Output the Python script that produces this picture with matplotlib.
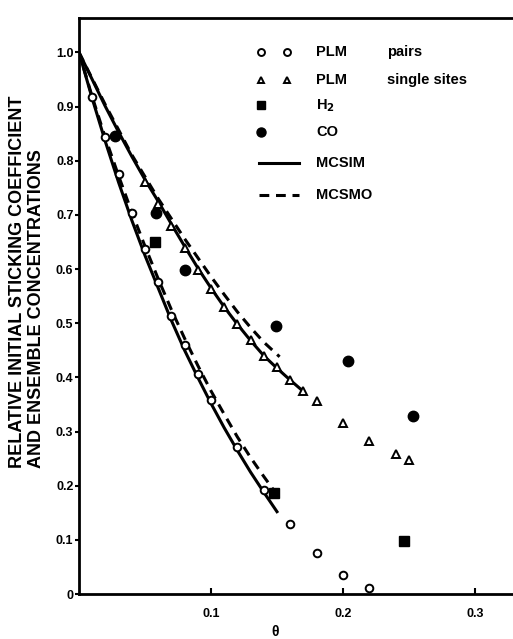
import matplotlib.pyplot as plt

plt.rcParams['font.family'] = ['Liberation Sans', 'DejaVu Sans']
plt.rcParams['font.weight'] = 'bold'

# PLM pairs (open circles)
pairs_x = [0.01, 0.02, 0.03, 0.04, 0.05, 0.06, 0.07, 0.08, 0.09, 0.10,
           0.12, 0.14, 0.16, 0.18, 0.20, 0.22]
pairs_y = [0.917, 0.844, 0.775, 0.704, 0.637, 0.577, 0.513, 0.460, 0.407, 0.358,
           0.271, 0.192, 0.129, 0.075, 0.036, 0.011]

# PLM single sites (open triangles)
single_x = [0.05, 0.06, 0.07, 0.08, 0.09, 0.10, 0.11, 0.12, 0.13, 0.14,
            0.15, 0.16, 0.17, 0.18, 0.20, 0.22, 0.24, 0.25]
single_y = [0.761, 0.720, 0.679, 0.639, 0.599, 0.564, 0.529, 0.498, 0.469, 0.440,
            0.419, 0.396, 0.375, 0.357, 0.316, 0.283, 0.258, 0.247]

# H2 (filled squares)
h2_x = [0.0576, 0.148, 0.2465]
h2_y = [0.650, 0.186, 0.098]

# CO (filled circles)
co_x = [0.027, 0.058, 0.080, 0.149, 0.204, 0.253]
co_y = [0.846, 0.704, 0.598, 0.495, 0.430, 0.329]

# MCSIM (solid) and MCSMO (dashed) curves
mcsim_pairs_x = [0, 0.01, 0.02, 0.03, 0.04, 0.05, 0.06, 0.07, 0.08, 0.09, 0.10,
                 0.11, 0.12, 0.13, 0.14, 0.15]
mcsim_pairs_y = [1.0, 0.915, 0.835, 0.760, 0.690, 0.625, 0.565, 0.505, 0.450, 0.400,
                 0.352, 0.307, 0.265, 0.225, 0.188, 0.152]
mcsmo_pairs_x = [0, 0.01, 0.02, 0.03, 0.04, 0.05, 0.06, 0.07, 0.08, 0.09, 0.10,
                 0.11, 0.12, 0.13, 0.14, 0.148]
mcsmo_pairs_y = [1.0, 0.918, 0.842, 0.772, 0.705, 0.642, 0.582, 0.525, 0.472, 0.422,
                 0.375, 0.332, 0.290, 0.252, 0.217, 0.190]
mcsim_single_x = [0, 0.01, 0.02, 0.03, 0.04, 0.05, 0.06, 0.07, 0.08, 0.09, 0.10,
                  0.11, 0.12, 0.13, 0.14, 0.15, 0.16, 0.17]
mcsim_single_y = [1.0, 0.950, 0.900, 0.853, 0.808, 0.765, 0.725, 0.683, 0.642, 0.602,
                  0.565, 0.530, 0.498, 0.468, 0.440, 0.417, 0.395, 0.374]
mcsmo_single_x = [0, 0.02, 0.04, 0.06, 0.07, 0.08, 0.09, 0.10, 0.11, 0.12, 0.13,
                  0.14, 0.152]
mcsmo_single_y = [1.0, 0.903, 0.811, 0.730, 0.693, 0.656, 0.621, 0.586, 0.553, 0.521,
                  0.492, 0.465, 0.438]

yticks = [0, 0.1, 0.2, 0.3, 0.4, 0.5, 0.6, 0.7, 0.8, 0.9, 1.0]
ytick_labels = ['0', '0.1', '0.2', '0.3', '0.4', '0.5', '0.6', '0.7', '0.8', '0.9', '1.0']
xticks = [0.1, 0.2, 0.3]
xtick_labels = ['0.1', '0.2', '0.3']

fig = plt.figure(figsize=(5.13, 6.39), dpi=100)
ax = fig.add_axes([0.154, 0.0704, 0.849, 0.901])

lw = 2.2
dash = (0, (3.2, 2.2))
ax.plot(mcsim_pairs_x, mcsim_pairs_y, color='black', lw=lw, zorder=2)
ax.plot(mcsim_single_x, mcsim_single_y, color='black', lw=lw, zorder=2)
ax.plot(mcsmo_pairs_x, mcsmo_pairs_y, color='black', lw=lw, ls=dash, zorder=2)
ax.plot(mcsmo_single_x, mcsmo_single_y, color='black', lw=lw, ls=dash, zorder=2)

ax.plot(pairs_x, pairs_y, 'o', ms=5.5, mfc='white', mec='black', mew=1.4, zorder=4)
ax.plot(single_x, single_y, '^', ms=6, mfc='white', mec='black', mew=1.4, zorder=4)
ax.plot(h2_x, h2_y, 's', ms=6.5, color='black', zorder=3)
ax.plot(co_x, co_y, 'o', ms=7.5, color='black', zorder=3)

ax.set_xlim(0, 0.33)
ax.set_ylim(0, 1.063)
ax.set_xticks(xticks)
ax.set_xticklabels(xtick_labels)
ax.set_yticks(yticks)
ax.set_yticklabels(ytick_labels)
ax.tick_params(axis='x', direction='in', length=4, width=1.5, pad=10, labelsize=9)
ax.tick_params(axis='y', direction='out', length=3, width=1.5, pad=1, labelsize=9)
for lab in ax.get_xticklabels() + ax.get_yticklabels():
    lab.set_fontweight('bold')

ax.spines['right'].set_visible(False)
for s in ['left', 'bottom', 'top']:
    ax.spines[s].set_linewidth(2)

# legend drawn by hand
tr = ax.transAxes
rows = [0.941, 0.892, 0.849, 0.802, 0.748, 0.693]
ax.plot([0.419, 0.477], [rows[0]] * 2, 'o', ms=5, mfc='white', mec='black', mew=1.4,
        transform=tr, clip_on=False)
ax.plot([0.419, 0.477], [rows[1]] * 2, '^', ms=5, mfc='white', mec='black', mew=1.4,
        transform=tr, clip_on=False)
ax.plot([0.419], [rows[2]], 's', ms=5.5, color='black', transform=tr, clip_on=False)
ax.plot([0.419], [rows[3]], 'o', ms=6.5, color='black', transform=tr, clip_on=False)
ax.plot([0.413, 0.505], [rows[4]] * 2, color='black', lw=lw, transform=tr)
ax.plot([0.413, 0.505], [rows[5]] * 2, color='black', lw=lw, ls=dash, transform=tr)

leg_fs = 10.5
ax.text(0.544, rows[0], 'PLM', fontsize=leg_fs, fontweight='bold', va='center', transform=tr)
ax.text(0.707, rows[0], 'pairs', fontsize=leg_fs, fontweight='bold', va='center', transform=tr)
ax.text(0.544, rows[1], 'PLM', fontsize=leg_fs, fontweight='bold', va='center', transform=tr)
ax.text(0.707, rows[1], 'single sites', fontsize=leg_fs, fontweight='bold', va='center', transform=tr)
ax.text(0.544, rows[2], 'H$_\\mathbf{2}$', fontsize=leg_fs, fontweight='bold', va='center', transform=tr)
ax.text(0.544, rows[3], 'CO', fontsize=leg_fs, fontweight='bold', va='center', transform=tr)
ax.text(0.544, rows[4], 'MCSIM', fontsize=leg_fs, fontweight='bold', va='center', transform=tr)
ax.text(0.544, rows[5], 'MCSMO', fontsize=leg_fs, fontweight='bold', va='center', transform=tr)

# axis labels
fig.text(18 / 513, 1 - 468 / 639, 'RELATIVE INITIAL STICKING COEFFICIENT', rotation=90,
         ha='center', va='bottom', fontsize=13, fontweight='bold')
fig.text(37 / 513, 1 - 468 / 639, 'AND ENSEMBLE CONCENTRATIONS', rotation=90,
         ha='center', va='bottom', fontsize=13, fontweight='bold')
fig.text(275 / 513, 1 - 632 / 639, 'θ', ha='center', va='center', fontsize=10, fontweight='bold')

fig.savefig('out.png', dpi=100)
